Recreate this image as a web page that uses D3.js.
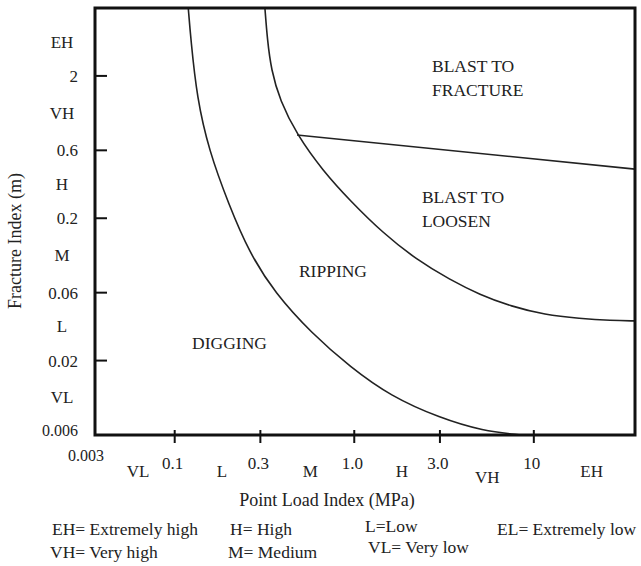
<!DOCTYPE html>
<html>
<head>
<meta charset="utf-8">
<script src="https://cdn.jsdelivr.net/npm/d3@7"></script>
<style>
  html, body { margin: 0; padding: 0; background: #fff; }
  svg { display: block; }
  text { font-family: "Liberation Serif", "DejaVu Serif", serif; fill: #222; }
</style>
</head>
<body>
<svg id="chart" width="641" height="566"></svg>
<script>
// Excavatability chart: fracture index (m) vs point load index (MPa), log-log.

// Axis ticks
const xTicks = [0.1, 0.3, 1, 3, 10];
const xTickLabels = ["0.1", "0.3", "1.0", "3.0", "10"];
const xOriginLabel = "0.003";
const yTicks = [2, 0.6, 0.2, 0.06, 0.02];
const yTickLabels = ["2", "0.6", "0.2", "0.06", "0.02"];
const yOriginLabel = "0.006";

// Strength / spacing class labels placed between ticks
const xClassNames = ["VL", "L", "M", "H", "VH", "EH"];
const xClassAt = [0.02, 0.183, 0.57, 1.84, 5.5, 21];
const yClassNames = ["EH", "VH", "H", "M", "L", "VL"];
const yClassAt = [3.46, 1.1, 0.346, 0.11, 0.035, 0.011];

// Boundary: digging / ripping
const digRipPointLoad = [0.119, 0.123, 0.133, 0.155, 0.20, 0.26, 0.36, 0.58, 0.95, 1.6, 3.0, 5.2, 8.5];
const digRipFracture  = [6, 3.6, 1.4, 0.6, 0.25, 0.115, 0.06, 0.031, 0.018, 0.0112, 0.0079, 0.0064, 0.006];

// Boundary: ripping / blasting
const ripBlastPointLoad = [0.318, 0.328, 0.345, 0.385, 0.480, 0.670, 0.95, 1.44, 2.23, 3.41, 5.0, 7.5, 11.5, 18, 27, 36.6];
const ripBlastFracture  = [6, 3.6, 2.2, 1.35, 0.769, 0.43, 0.265, 0.158, 0.102, 0.074, 0.058, 0.048, 0.042, 0.0395, 0.0382, 0.038];

// Boundary: blast to loosen / blast to fracture
const blastPointLoad = [0.48, 36.6];
const blastFracture  = [0.769, 0.443];

// Zone names
const zoneLines = [["BLAST TO", "FRACTURE"], ["BLAST TO", "LOOSEN"], ["RIPPING"], ["DIGGING"]];
const zonePointLoad = [2.71, 2.38, 0.492, 0.125];
const zoneFracture  = [2.13, 0.256, 0.0773, 0.0241];

// Abbreviation key
const keyTexts = ["EH= Extremely high", "VH= Very high", "H= High", "M= Medium", "L=Low", "VL= Very low", "EL= Extremely low"];

const svg = d3.select("#chart");
const plotLeft = 95, plotRight = 635, plotTop = 8, plotBottom = 435;

// The first segment (origin to 0.1) is compressed; beyond that the axis is a regular log scale.
const x = d3.scaleLog().domain([0.003, 0.1, 36.6]).range([plotLeft, 174.7, plotRight]);
const y = d3.scaleLog().domain([0.006, 6]).range([plotBottom, plotTop]);

const ink = "#222";

// Boundary curves (smoothed)
const smooth = d3.line().x(d => x(d[0])).y(d => y(d[1])).curve(d3.curveBasis);
const straight = d3.line().x(d => x(d[0])).y(d => y(d[1]));
const curves = [
  { pts: d3.zip(digRipPointLoad, digRipFracture), gen: smooth },
  { pts: d3.zip(ripBlastPointLoad, ripBlastFracture), gen: smooth },
  { pts: d3.zip(blastPointLoad, blastFracture), gen: straight }
];
svg.append("g").selectAll("path").data(curves).join("path")
  .attr("d", d => d.gen(d.pts))
  .attr("fill", "none")
  .attr("stroke", ink)
  .attr("stroke-width", 1.6);

// Frame
svg.append("rect")
  .attr("x", plotLeft).attr("y", plotTop)
  .attr("width", plotRight - plotLeft).attr("height", plotBottom - plotTop)
  .attr("fill", "none").attr("stroke", "#111").attr("stroke-width", 3);

// Left axis ticks (inward) and labels
const yAxis = svg.append("g");
yAxis.selectAll("line").data(yTicks).join("line")
  .attr("x1", plotLeft).attr("x2", plotLeft + 12)
  .attr("y1", d => y(d)).attr("y2", d => y(d))
  .attr("stroke", "#111").attr("stroke-width", 2);
yAxis.selectAll("text.num").data(d3.zip(yTicks, yTickLabels)).join("text")
  .attr("class", "num")
  .attr("x", 78).attr("y", d => y(d[0]))
  .attr("dy", "0.35em").attr("text-anchor", "end")
  .attr("font-size", 17).text(d => d[1]);
yAxis.append("text")
  .attr("x", 78).attr("y", y(0.006) - 5)
  .attr("dy", "0.35em").attr("text-anchor", "end")
  .attr("font-size", 16).text(yOriginLabel);
yAxis.selectAll("text.cls").data(d3.zip(yClassAt, yClassNames)).join("text")
  .attr("class", "cls")
  .attr("x", 62).attr("y", d => y(d[0]))
  .attr("dy", "0.35em").attr("text-anchor", "middle")
  .attr("font-size", 17).text(d => d[1]);

// Bottom axis ticks (crossing the frame) and labels
const xAxis = svg.append("g");
xAxis.selectAll("line").data(xTicks).join("line")
  .attr("x1", d => x(d)).attr("x2", d => x(d))
  .attr("y1", plotBottom - 5).attr("y2", plotBottom + 8)
  .attr("stroke", "#111").attr("stroke-width", 2);
xAxis.selectAll("text.num").data(d3.zip(xTicks, xTickLabels)).join("text")
  .attr("class", "num")
  .attr("x", d => x(d[0]) - 2).attr("y", 463)
  .attr("dy", "0.35em").attr("text-anchor", "middle")
  .attr("font-size", 17).text(d => d[1]);
xAxis.append("text")
  .attr("x", x(0.003) - 9).attr("y", 455)
  .attr("dy", "0.35em").attr("text-anchor", "middle")
  .attr("font-size", 16).text(xOriginLabel);
xAxis.selectAll("text.cls").data(d3.zip(xClassAt, xClassNames)).join("text")
  .attr("class", "cls")
  .attr("x", d => x(d[0])).attr("y", d => d[1] === "VH" ? 477 : 471)
  .attr("dy", "0.35em").attr("text-anchor", "middle")
  .attr("font-size", 17).text(d => d[1]);

// Axis titles
svg.append("text")
  .attr("x", 327).attr("y", 506)
  .attr("text-anchor", "middle").attr("font-size", 18)
  .text("Point Load Index (MPa)");
svg.append("text")
  .attr("transform", "translate(21,241) rotate(-90)")
  .attr("text-anchor", "middle").attr("font-size", 18)
  .text("Fracture Index (m)");

// Zone names
const zones = svg.append("g");
zoneLines.forEach((lines, i) => {
  const t = zones.append("text")
    .attr("x", x(zonePointLoad[i])).attr("y", y(zoneFracture[i]))
    .attr("font-size", 17.5);
  lines.forEach((s, j) => {
    t.append("tspan").attr("x", x(zonePointLoad[i])).attr("dy", j === 0 ? 0 : 24).text(s);
  });
});

// Abbreviation key
const keyPos = [[52, 535], [50, 558], [230, 535], [228, 558], [365, 532], [368, 553], [497, 535]];
svg.append("g").selectAll("text").data(keyTexts).join("text")
  .attr("x", (d, i) => keyPos[i][0]).attr("y", (d, i) => keyPos[i][1])
  .attr("font-size", 17.5).text(d => d);
</script>
</body>
</html>
